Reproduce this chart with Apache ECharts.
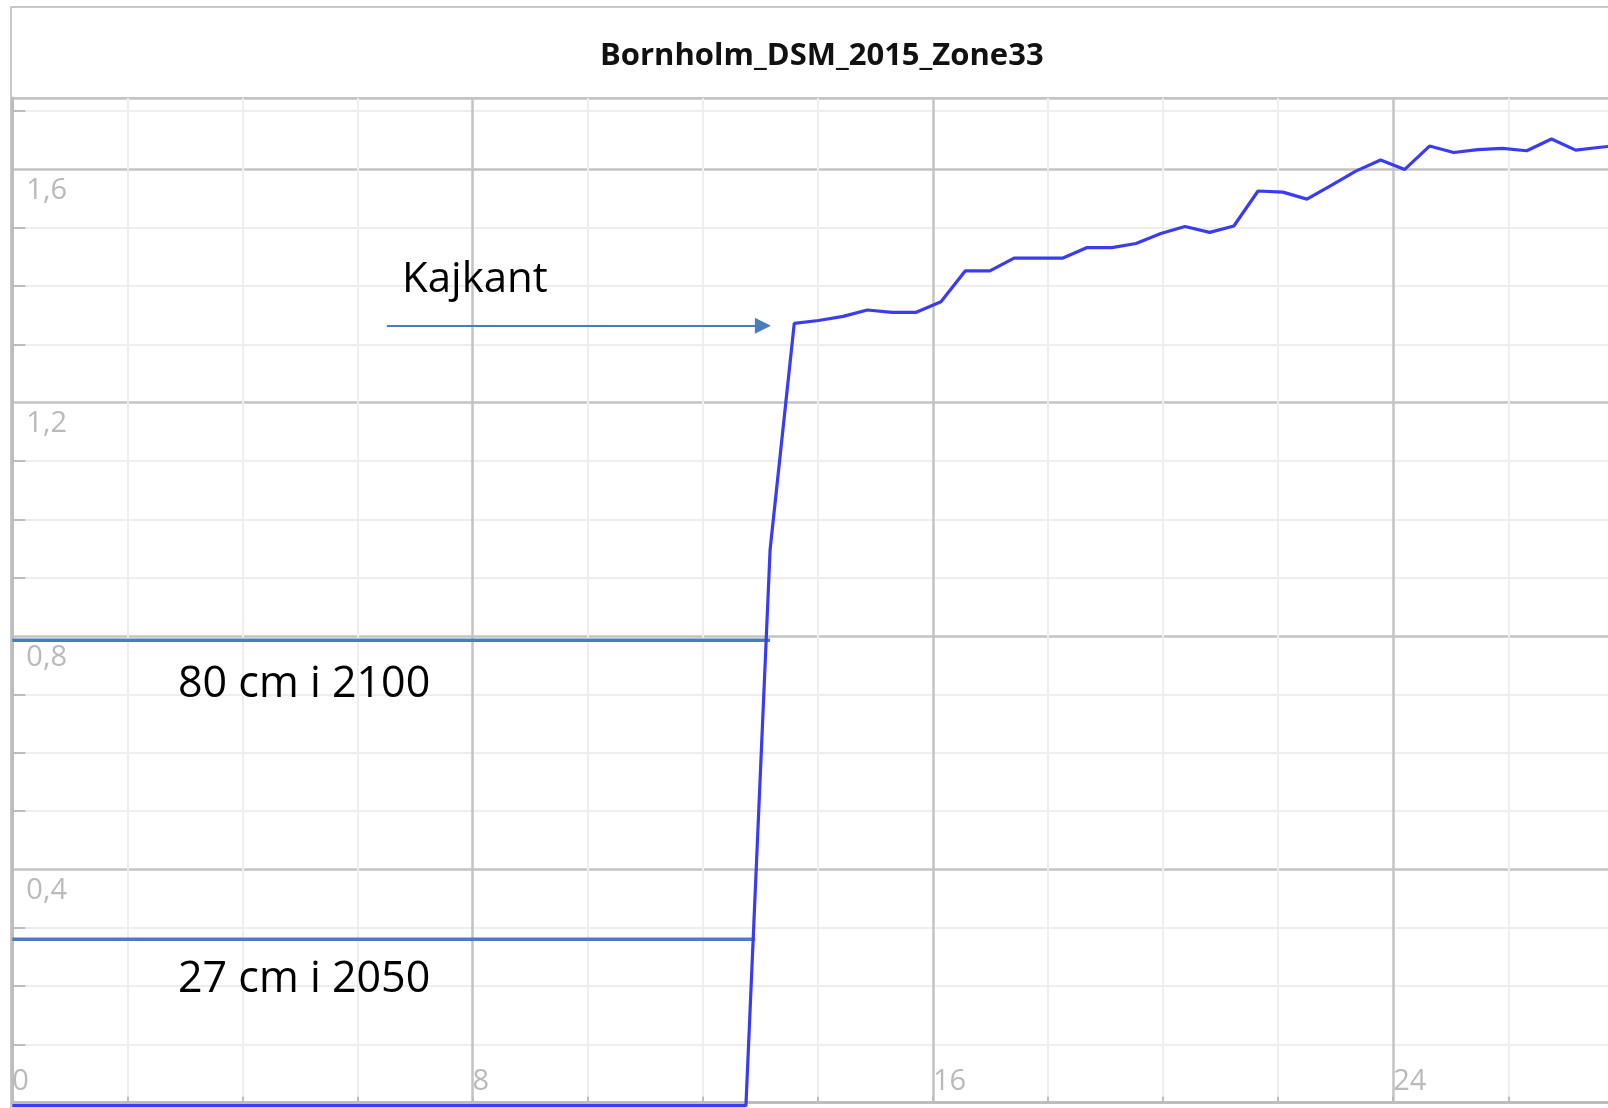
<!DOCTYPE html>
<html>
<head>
<meta charset="utf-8">
<title>Bornholm_DSM_2015_Zone33</title>
<script src="https://cdn.jsdelivr.net/npm/echarts@6.0.0/dist/echarts.min.js"></script>
<style>
  html, body { margin: 0; padding: 0; background: #fff; }
  #chart { width: 1608px; height: 1108px; }
</style>
</head>
<body>
<div id="chart"></div>
<script>
// profil langs linjen (afstand, kote i m)
const distance = [0, 12.75, 13.17, 13.59, 14.01, 14.44, 14.86, 15.29, 15.71, 16.14, 16.56, 16.99, 17.41, 17.84, 18.26, 18.68, 19.11, 19.53, 19.96, 20.38, 20.81, 21.23, 21.65, 22.08, 22.50, 22.93, 23.35, 23.78, 24.20, 24.63, 25.05, 25.47, 25.90, 26.32, 26.75, 27.17, 27.60, 28.02];
const elevation = [-0.005, -0.005, 0.948, 1.336, 1.341, 1.348, 1.359, 1.355, 1.355, 1.373, 1.426, 1.426, 1.448, 1.448, 1.448, 1.466, 1.466, 1.473, 1.490, 1.502, 1.492, 1.503, 1.563, 1.561, 1.549, 1.573, 1.597, 1.616, 1.600, 1.640, 1.629, 1.634, 1.636, 1.632, 1.652, 1.633, 1.638, 1.642];

// havniveauer
const levelNames = ["80 cm i 2100", "27 cm i 2050"];
const levelValues = [0.793, 0.28];
const levelEnds = [13.17, 12.91];

// pil mod kajkanten
const arrowFrom = [6.51, 1.332];
const arrowTo = [13.045, 1.332];

const chartTitle = "Bornholm_DSM_2015_Zone33";

const blue = "#3b3bef";
const steel = "#4a7ebb";
const labelGray = "#bababa";

const chart = echarts.init(document.getElementById("chart"));

const series = [
  {
    name: "profil",
    type: "line",
    data: distance.map((d, i) => [d, elevation[i]]),
    showSymbol: false,
    clip: false,
    z: 4,
    lineStyle: { color: blue, width: 3.2 },
  },
];
levelNames.forEach((name, i) => {
  series.push({
    name: name,
    type: "line",
    data: [
      [0, levelValues[i]],
      [levelEnds[i], levelValues[i]],
    ],
    showSymbol: false,
    z: 3,
    lineStyle: { color: steel, width: 3.5 },
  });
});
series.push({
  name: "Kajkant",
  type: "line",
  data: [],
  markLine: {
    silent: true,
    symbol: ["none", "triangle"],
    symbolSize: 16,
    label: { show: false },
    lineStyle: { color: steel, width: 2.2, type: "solid" },
    itemStyle: { color: steel },
    data: [[{ coord: arrowFrom }, { coord: arrowTo }]],
  },
});

const option = {
  animation: false,
  backgroundColor: "#fff",
  grid: {
    left: 12.3,
    top: 98,
    right: -2,
    bottom: 5.3,
    containLabel: false,
    outerBoundsMode: "none",
    show: true,
    borderColor: "#c8c8c8",
    borderWidth: 2,
  },
  xAxis: {
    type: "value",
    min: 0,
    max: 27.767,
    interval: 8,
    axisLine: { show: true, lineStyle: { color: "#bdbdbd", width: 3 } },
    axisTick: { show: true, inside: true, length: 6, lineStyle: { color: "#bdbdbd", width: 2 } },
    minorTick: { show: true, splitNumber: 4, length: 6, lineStyle: { color: "#bdbdbd", width: 2 } },
    axisLabel: {
      inside: true,
      align: "left",
      verticalAlign: "bottom",
      margin: 6,
      showMaxLabel: false,
      color: labelGray,
      fontFamily: "Open Sans",
      fontSize: 29,
    },
    splitLine: { show: true, lineStyle: { color: "#c3c3c3", width: 2.5 } },
    minorSplitLine: { show: true, lineStyle: { color: "#eeeeee", width: 2 } },
  },
  yAxis: {
    type: "value",
    min: 0,
    max: 1.7224,
    interval: 0.4,
    axisLine: { show: true, lineStyle: { color: "#bdbdbd", width: 3 } },
    axisTick: { show: false, inside: true },
    minorTick: { show: true, splitNumber: 4, length: 13, lineStyle: { color: "#bdbdbd", width: 2 } },
    axisLabel: {
      inside: true,
      align: "left",
      verticalAlign: "top",
      margin: 14,
      padding: [7, 0, 0, 0],
      showMaxLabel: false,
      showMinLabel: false,
      color: labelGray,
      fontFamily: "Open Sans",
      fontSize: 29,
      formatter: (v) => String(v).replace(".", ","),
    },
    splitLine: { show: true, lineStyle: { color: "#c3c3c3", width: 2.5 } },
    minorSplitLine: { show: true, lineStyle: { color: "#eeeeee", width: 2 } },
  },
  graphic: [
    {
      type: "rect",
      silent: true,
      z: 0,
      shape: { x: 11, y: 7, width: 1800, height: 1300 },
      style: { fill: "none", stroke: "#c8c8c8", lineWidth: 2 },
    },
    {
      type: "text",
      silent: true,
      x: 600,
      y: 41,
      style: {
        text: chartTitle,
        font: 'bold 31px "Open Sans"',
        fill: "#111",
        verticalAlign: "top",
      },
    },
    {
      type: "text",
      silent: true,
      z: 10,
      x: 402,
      y: 259,
      style: {
        text: "Kajkant",
        font: '42px "Open Sans"',
        fill: "#000",
        verticalAlign: "top",
      },
    },
    {
      type: "text",
      silent: true,
      z: 10,
      x: 178,
      y: 663,
      style: {
        text: levelNames[0],
        font: '43px "Open Sans"',
        fill: "#000",
        verticalAlign: "top",
      },
    },
    {
      type: "text",
      silent: true,
      z: 10,
      x: 178,
      y: 958,
      style: {
        text: levelNames[1],
        font: '43px "Open Sans"',
        fill: "#000",
        verticalAlign: "top",
      },
    },
  ],
  series: series,
};

chart.setOption(option);
</script>
</body>
</html>
